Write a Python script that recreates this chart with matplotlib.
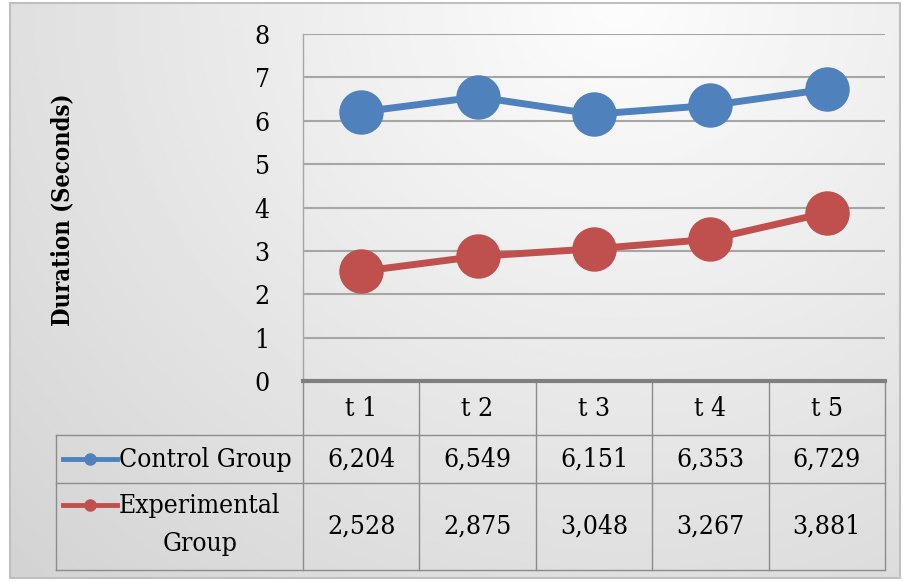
import numpy as np
import matplotlib.pyplot as plt
from matplotlib.lines import Line2D

# ----- data -----
periods = ["t 1", "t 2", "t 3", "t 4", "t 5"]
control = [6.204, 6.549, 6.151, 6.353, 6.729]
experimental = [2.528, 2.875, 3.048, 3.267, 3.881]
control_lbl = ["6,204", "6,549", "6,151", "6,353", "6,729"]
exp_lbl = ["2,528", "2,875", "3,048", "3,267", "3,881"]
y_ticks = [0, 1, 2, 3, 4, 5, 6, 7, 8]

blue = "#4f81bd"
red = "#c0504d"
plt.rcParams['font.family'] = "DejaVu Serif"
plt.rcParams['font.stretch'] = "condensed"

W, H = 904, 581
fig = plt.figure(figsize=(W / 100, H / 100), dpi=100)

# background layer in pixel coords
bg = fig.add_axes([0, 0, 1, 1], zorder=0)
bg.set_xlim(0, W)
bg.set_ylim(H, 0)
bg.axis("off")
xx, yy = np.meshgrid(np.linspace(0, W, 300), np.linspace(0, H, 200))
d = np.sqrt(((xx - 620) / 700) ** 2 + ((yy - 0) / 650) ** 2)
shade = np.clip(0.99 - 0.13 * d, 0.83, 1)
bg.imshow(shade, cmap="gray", vmin=0, vmax=1, extent=(10, 900, 578, 3), aspect="auto")
bg.plot([10, 900, 900, 10, 10], [3, 3, 578, 578, 3], color="#bfbfbf", lw=1.5)

# plot area
x0, x1, ytop, ybot = 303, 885, 34, 381
ax = fig.add_axes([x0 / W, 1 - ybot / H, (x1 - x0) / W, (ybot - ytop) / H], zorder=2)
ax.patch.set_alpha(0)
xs = np.arange(len(periods))
ax.plot(xs, control, color=blue, lw=5, marker="o", ms=31, solid_capstyle="round")
ax.plot(xs, experimental, color=red, lw=5, marker="o", ms=31, solid_capstyle="round")
ax.set_xlim(-0.5, len(periods) - 0.5)
ax.set_ylim(0, 8)
ax.set_yticks(y_ticks)
ax.set_xticks([])
ax.tick_params(axis="y", length=0, pad=24, labelsize=19)
ax.yaxis.grid(True, color="#a6a6a6", lw=1.5)
ax.set_axisbelow(True)
for s in ["top", "right"]:
    ax.spines[s].set_visible(False)
ax.spines["left"].set_color("#a6a6a6")
ax.spines["left"].set_linewidth(1)
ax.spines["bottom"].set_color("#7f7f7f")
ax.spines["bottom"].set_linewidth(3)
ax.spines["bottom"].set_zorder(5)

bg.text(62, 210, "Duration (Seconds)", rotation=90, ha="center", va="center",
        fontsize=17, fontweight="bold", zorder=4)

# data table below the plot
col_w = (x1 - x0) / len(periods)
lab_x = 56
rows = [381, 435, 483, 570]
lc = "#8c8c8c"
fs = 19
for i in range(len(periods) + 1):
    bg.plot([x0 + i * col_w] * 2, [rows[0], rows[-1]], color=lc, lw=1, zorder=3)
bg.plot([lab_x, lab_x], [rows[1], rows[-1]], color=lc, lw=1, zorder=3)
for r in rows[1:]:
    bg.plot([lab_x, x1], [r, r], color=lc, lw=1, zorder=3)

for i, p in enumerate(periods):
    cx = x0 + (i + 0.5) * col_w
    bg.text(cx, (rows[0] + rows[1]) / 2, p, ha="center", va="center", fontsize=fs, zorder=4)
    bg.text(cx, (rows[1] + rows[2]) / 2, control_lbl[i], ha="center", va="center", fontsize=fs, zorder=4)
    bg.text(cx, (rows[2] + rows[3]) / 2, exp_lbl[i], ha="center", va="center", fontsize=fs, zorder=4)

# legend keys in the row labels
for color, yk in [(blue, 459), (red, 505)]:
    bg.add_line(Line2D([63, 117], [yk, yk], color=color, lw=3.5, zorder=4))
    bg.plot([90], [yk], marker="o", ms=8, color=color, zorder=5)
bg.text(119, 459, "Control Group", ha="left", va="center", fontsize=fs, zorder=4)
bg.text(119, 505, "Experimental", ha="left", va="center", fontsize=fs, zorder=4)
bg.text(200, 544, "Group", ha="center", va="center", fontsize=fs, zorder=4)

fig.savefig("out.png", dpi=100)
